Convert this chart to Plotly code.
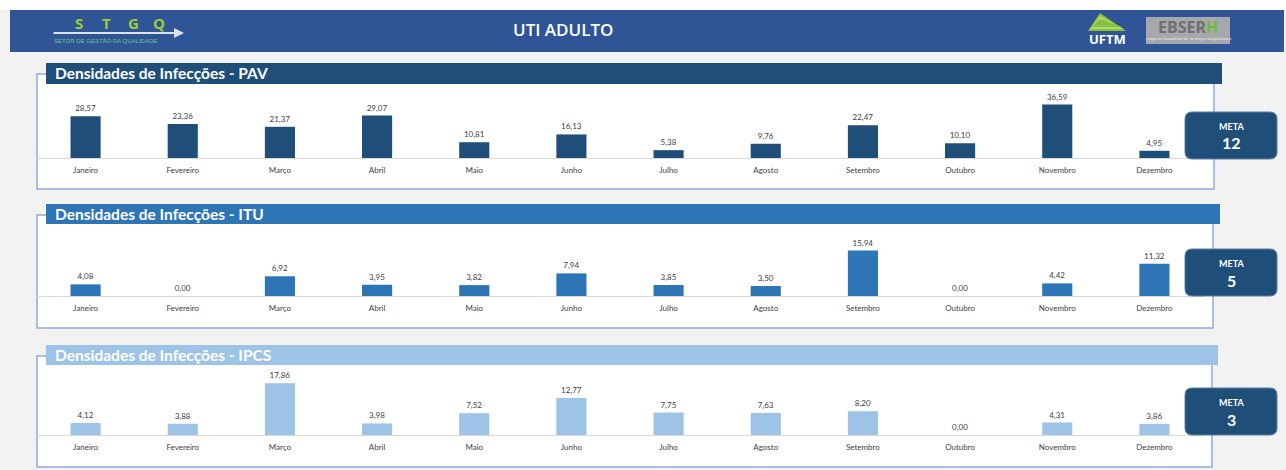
import plotly.graph_objects as go

W, H = 1286, 470

months = ["Janeiro", "Fevereiro", "Março", "Abril", "Maio", "Junho", "Julho",
          "Agosto", "Setembro", "Outubro", "Novembro", "Dezembro"]
pav = [28.57, 23.36, 21.37, 29.07, 10.81, 16.13, 5.38, 9.76, 22.47, 10.10, 36.59, 4.95]
itu = [4.08, 0.00, 6.92, 3.95, 3.82, 7.94, 3.85, 3.50, 15.94, 0.00, 4.42, 11.32]
ipcs = [4.12, 3.88, 17.86, 3.98, 7.52, 12.77, 7.75, 7.63, 8.20, 0.00, 4.31, 3.86]
titles = ["Densidades de Infecções - PAV", "Densidades de Infecções - ITU",
          "Densidades de Infecções - IPCS"]
metas = [12, 5, 3]
header_title = "UTI ADULTO"

series = [pav, itu, ipcs]
colors = ["#1F4E79", "#2E75B6", "#9DC3E6"]

# layout geometry in pixels
panels = [
    dict(bar=(46, 1222, 63, 84), box=(37, 1214, 74, 189), base=158, scale=1.46, meta=(1185, 1277, 112, 159)),
    dict(bar=(46, 1220, 204, 224), box=(37, 1213, 215, 328), base=296, scale=2.85, meta=(1185, 1277, 249, 296)),
    dict(bar=(46, 1218, 345, 365), box=(37, 1212, 356, 467), base=435, scale=2.9, meta=(1185, 1277, 388, 435)),
]


def px(x):
    return x / W


def py(y):
    return 1 - y / H


def rrect(x0, x1, y0, y1, r):
    return (f"M {px(x0 + r)},{py(y0)} L {px(x1 - r)},{py(y0)} "
            f"Q {px(x1)},{py(y0)} {px(x1)},{py(y0 + r)} "
            f"L {px(x1)},{py(y1 - r)} Q {px(x1)},{py(y1)} {px(x1 - r)},{py(y1)} "
            f"L {px(x0 + r)},{py(y1)} Q {px(x0)},{py(y1)} {px(x0)},{py(y1 - r)} "
            f"L {px(x0)},{py(y0 + r)} Q {px(x0)},{py(y0)} {px(x0 + r)},{py(y0)} Z")


def note(text, x, y, size, color, family="Lato", xanchor="center", weight="normal"):
    return dict(text=text, x=px(x), y=py(y), xref="paper", yref="paper", xanchor=xanchor,
                yanchor="middle", showarrow=False,
                font=dict(family=family, size=size, color=color, weight=weight))


fig = go.Figure()
shapes = []
annotations = []

# background pieces
shapes.append(dict(type="rect", xref="paper", yref="paper", x0=0, x1=1, y0=py(10), y1=1,
                   fillcolor="white", line=dict(width=0), layer="below"))
shapes.append(dict(type="rect", xref="paper", yref="paper", x0=px(10), x1=px(1284), y0=py(52), y1=py(10),
                   fillcolor="#2F5597", line=dict(width=0), layer="below"))
annotations.append(note(header_title, 563, 30, 17, "white", family="Open Sans", weight=600))

# STGQ logo
for ch, xx in zip("STGQ", [79, 106, 133, 159]):
    annotations.append(note(f"<b>{ch}</b>", xx, 23, 15, "#9ACD32", family="Open Sans"))
annotations.append(dict(text="", x=px(184), y=py(33), ax=-132, ay=0, xref="paper", yref="paper",
                        showarrow=True, arrowhead=2, arrowsize=1,
                        arrowwidth=2, arrowcolor="#DDE3EE"))
annotations.append(note("SETOR DE GESTÃO DA QUALIDADE", 52, 41, 6, "#6FC28F",
                        family="Liberation Sans Narrow, Liberation Sans", xanchor="left"))

# UFTM logo
for i, c in enumerate(["#9ACD32", "#B5D96A", "#7FBF3F"]):
    shapes.append(dict(type="path", xref="paper", yref="paper",
                       path=f"M {px(1088 + i * 2)},{py(31 - i * 2)} L {px(1100)},{py(13 + i * 3)} L {px(1126 - i * 2)},{py(31 - i * 2)} Z",
                       fillcolor=c, line=dict(width=0), opacity=0.9))
annotations.append(note("<b>UFTM</b>", 1107, 39, 13, "white", family="Open Sans"))
# EBSERH logo
shapes.append(dict(type="rect", xref="paper", yref="paper", x0=px(1146), x1=px(1230), y0=py(44), y1=py(17),
                   fillcolor="#A6A8AD", line=dict(width=0)))
annotations.append(note("<b>EBSER<span style='color:#6DBB3A'>H</span></b>", 1188, 27, 16, "#707070",
                        family="Open Sans"))
annotations.append(note("empresa brasileira de serviços hospitalares", 1188, 39, 5, "#EDEDED",
                        family="Liberation Sans Narrow"))

for k, (vals, col, title, meta, g) in enumerate(zip(series, colors, titles, metas, panels)):
    ax_i = "" if k == 0 else str(k + 1)
    bx0, bx1, by0, by1 = g["box"]
    shapes.append(dict(type="rect", xref="paper", yref="paper", x0=px(bx0), x1=px(bx1), y0=py(by1), y1=py(by0),
                       fillcolor="white", line=dict(color="#8FAADC", width=1.5), layer="below"))
    tx0, tx1, ty0, ty1 = g["bar"]
    shapes.append(dict(type="rect", xref="paper", yref="paper", x0=px(tx0), x1=px(tx1), y0=py(ty1), y1=py(ty0),
                       fillcolor=col, line=dict(width=0), layer="below"))
    annotations.append(note(f"<b>{title}</b>", tx0 + 7, (ty0 + ty1) / 2, 15.5, "white", xanchor="left"))
    mx0, mx1, my0, my1 = g["meta"]
    shapes.append(dict(type="path", xref="paper", yref="paper", path=rrect(mx0, mx1, my0, my1, 7),
                       fillcolor="#1F4E79", line=dict(color="#5B7FA8", width=1)))
    annotations.append(note("<b>META</b>", (mx0 + mx1) / 2, my0 + 14, 9, "white"))
    annotations.append(note(f"<b>{meta}</b>", (mx0 + mx1) / 2, my0 + 31, 16, "white"))

    base = g["base"]
    top = base - 80
    fig.add_trace(go.Bar(x=months, y=vals, marker=dict(color=col, line=dict(width=0)),
                         texttemplate="%{y:.2f}", textposition="outside", cliponaxis=False,
                         textfont=dict(family="Lato", size=8, color="#404040"),
                         xaxis="x" + ax_i, yaxis="y" + ax_i, showlegend=False, hoverinfo="skip"))
    fig.update_layout(**{
        "xaxis" + ax_i: dict(domain=[px(37), px(1203)], anchor="y" + ax_i, type="category",
                             showline=True, linecolor="#D9D9D9", linewidth=1, showgrid=False,
                             ticks="", ticklabelstandoff=4,
                             tickfont=dict(family="Lato", size=8, color="#404040"), fixedrange=True),
        "yaxis" + ax_i: dict(domain=[py(base), py(top)], anchor="x" + ax_i, range=[0, 80 / g["scale"]],
                             visible=False, showgrid=False, fixedrange=True),
    })

fig.update_layout(width=W, height=H, margin=dict(l=0, r=0, t=0, b=0),
                  paper_bgcolor="#F2F2F2", plot_bgcolor="rgba(0,0,0,0)",
                  separators=",.", bargap=0.69, shapes=shapes, annotations=annotations,
                  font=dict(family="Lato"))
fig.write_html("out.html", config={"displayModeBar": False},
               post_script="document.body.style.margin='0';")
